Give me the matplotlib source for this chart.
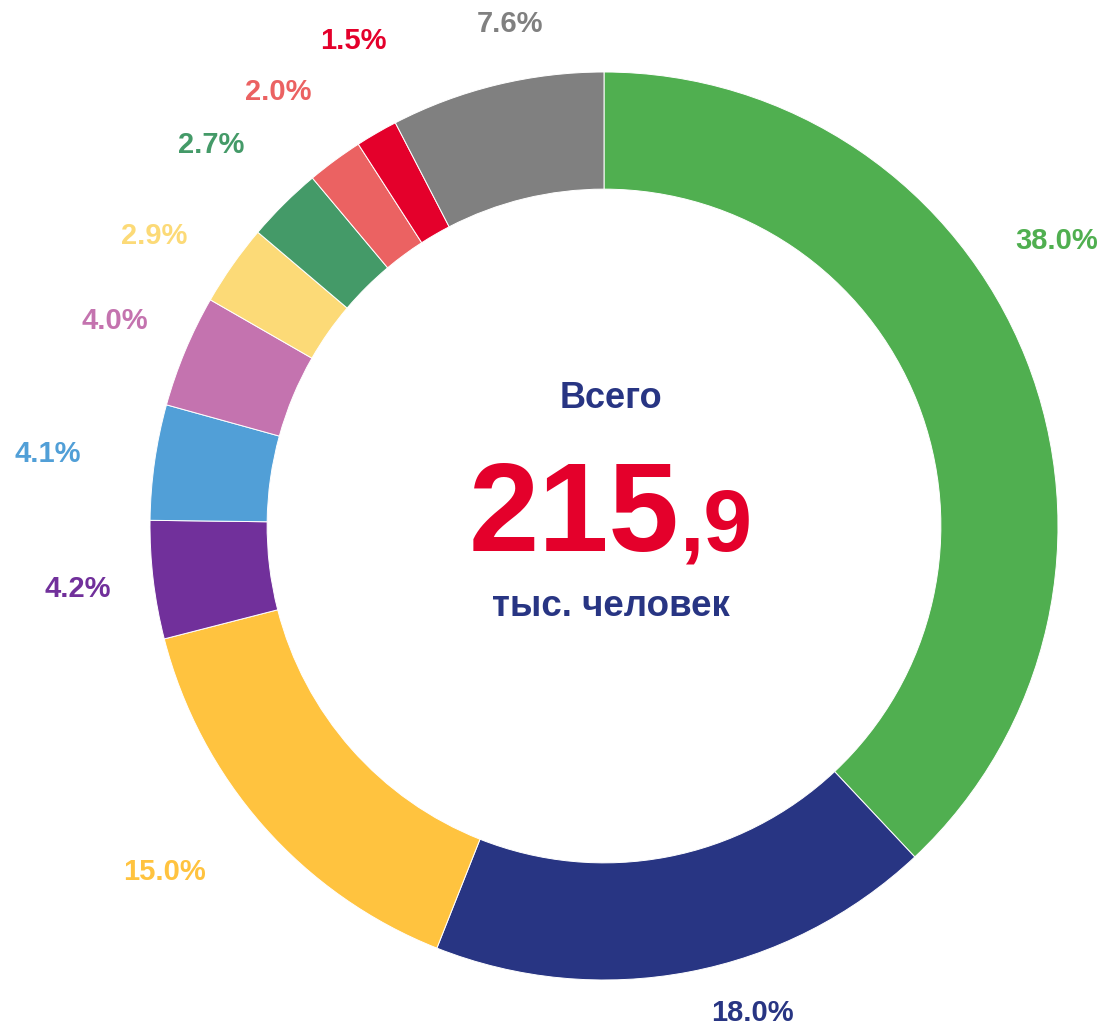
import matplotlib.pyplot as plt

# shares of the total, clockwise from 12 o'clock
shares = [38.0, 18.0, 15.0, 4.2, 4.1, 4.0, 2.9, 2.7, 2.0, 1.5, 7.6]
colors = ["#50AF50", "#283583", "#FFC33F", "#71309B", "#519FD7", "#C473AF",
          "#FCDA77", "#449A68", "#EB6262", "#E4002B", "#808080"]
labels = [f"{v:.1f}%" for v in shares]

total_main = "215"
total_frac = ",9"
title_top = "Всего"
title_bottom = "тыс. человек"

# label positions in ring radii (centre = 0,0)
label_pos = [(0.998, 0.628), (0.326, -1.073), (-0.967, -0.762), (-1.159, -0.139),
             (-1.225, 0.159), (-1.077, 0.452), (-0.991, 0.639), (-0.866, 0.839),
             (-0.718, 0.956), (-0.551, 1.068), (-0.207, 1.106)]

plt.rcParams['font.family'] = ['Liberation Sans', 'DejaVu Sans']

fig = plt.figure(figsize=(11.04, 10.25), dpi=100)
ax = fig.add_axes([0, 0, 1, 1])

ax.pie(shares, colors=colors, startangle=90, counterclock=False, radius=1.0,
       wedgeprops=dict(width=0.258, edgecolor='white', linewidth=0.7))

for lab, c, (x, y) in zip(labels, colors, label_pos):
    ax.text(x, y, lab, color=c, fontsize=21, fontweight='bold', ha='center', va='center')

navy = "#283583"
red = "#E4002B"
ax.text(0.015, 0.280, title_top, color=navy, fontsize=26, fontweight='bold', ha='center', va='center')
ax.text(0.165, -0.055, total_main, color=red, fontsize=91, fontweight='bold', ha='right', va='baseline')
ax.text(0.165, -0.055, total_frac, color=red, fontsize=63, fontweight='bold', ha='left', va='baseline')
ax.text(0.015, -0.178, title_bottom, color=navy, fontsize=26.5, fontweight='bold', ha='center', va='center')

R = 454
ax.set_xlim(-604 / R, 500 / R)
ax.set_ylim(-499 / R, 526 / R)
ax.set_aspect('auto')
ax.axis('off')

plt.savefig('out.png', dpi=100)
